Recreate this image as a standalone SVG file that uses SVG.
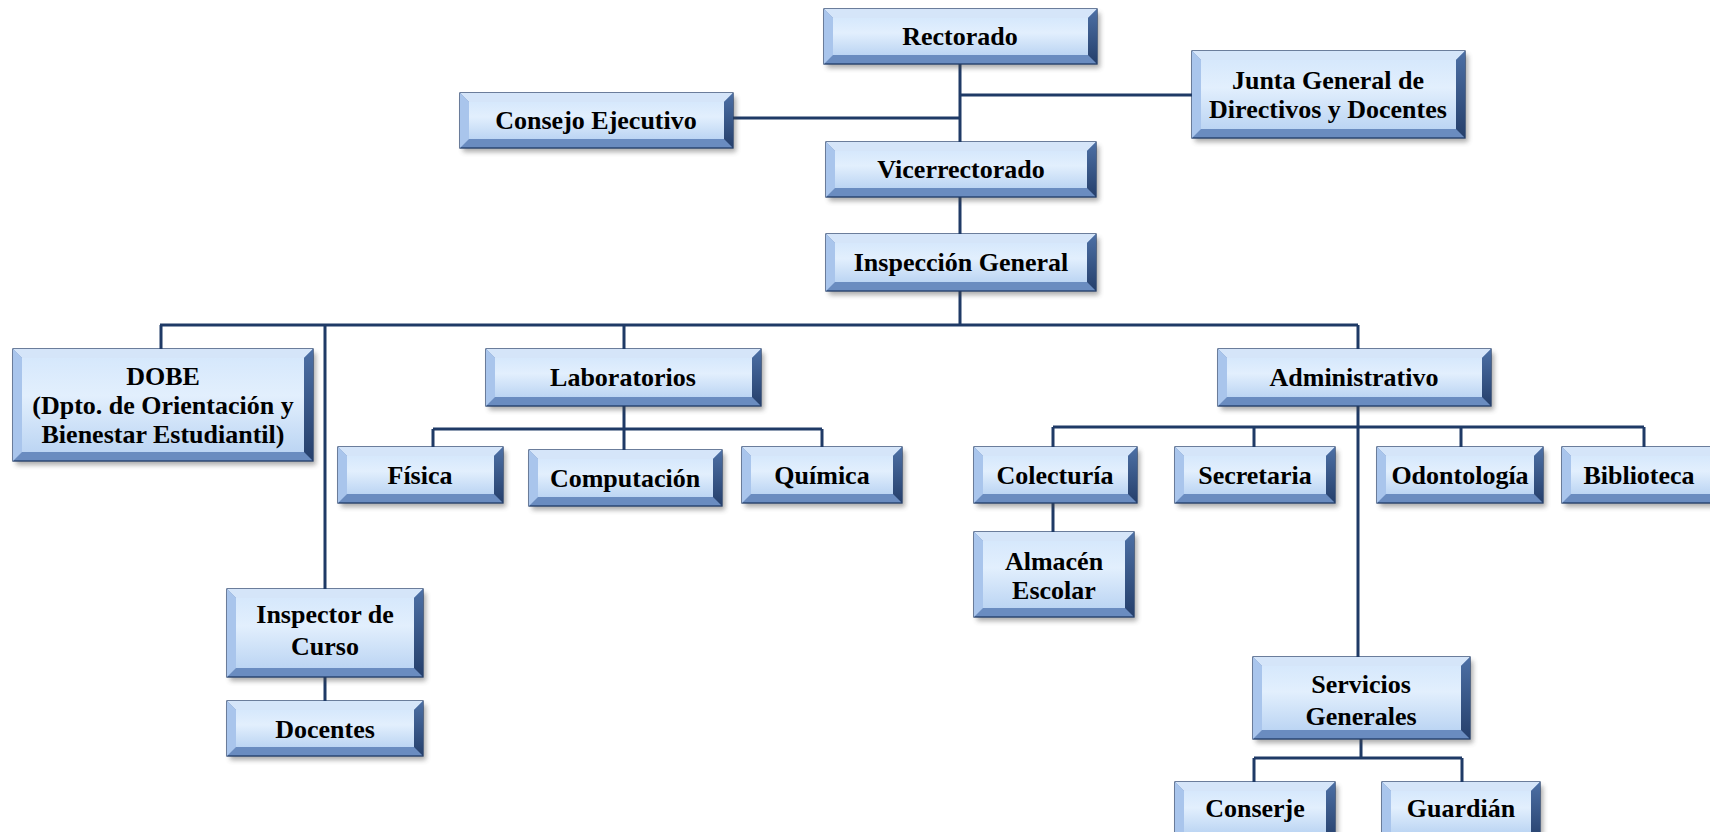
<svg xmlns="http://www.w3.org/2000/svg" width="1710" height="832" viewBox="0 0 1710 832">
<defs>
<linearGradient id="face" x1="0" y1="0" x2="0" y2="1">
<stop offset="0" stop-color="#d6e8fc"/>
<stop offset="0.4" stop-color="#e2effd"/>
<stop offset="1" stop-color="#bcd5f3"/>
</linearGradient>
<linearGradient id="rg" x1="0" y1="0" x2="0" y2="1">
<stop offset="0" stop-color="#4d70a5"/>
<stop offset="1" stop-color="#253f6b"/>
</linearGradient>
<filter id="blur" x="-10%" y="-20%" width="120%" height="140%"><feGaussianBlur stdDeviation="2.5"/></filter>
</defs>
<style>
.sh{fill:#444;opacity:.45;filter:url(#blur)}
.base{fill:#6a8cc0;stroke:#1f3b68;stroke-width:1.3}
.tp{fill:#d5e5f9}
.lf{fill:#a9c5ec}
.rt{fill:url(#rg)}
.fc{fill:url(#face)}
text{font-family:"Liberation Serif","Times New Roman",serif;font-weight:bold;font-size:26px;text-anchor:middle;fill:#000}
.ln{stroke:#1f3a66;stroke-width:3;fill:none}
</style>
<rect width="1710" height="832" fill="#fff"/>
<g id="connectors">
<path class="ln" d="M960,64V142M960,95H1192M733,118H960M960,197V234M960,291V325M160,325H1358M161,325V349M325,325V589M624,325V349M1358,325V657M624,406V429M433,429H822M433,429V447M624,429V450M822,429V447M1053,427H1644M1053,427V447M1254,427V447M1461,427V447M1644,427V447M1053,503V532M325,677V701M1361,739V758M1254,758H1462M1254,758V782M1462,758V782"/>
</g>
<g id="rectorado">
<rect class="sh" x="827" y="13" width="273" height="55"/>
<rect class="base" x="824" y="9" width="273" height="55"/>
<polygon class="tp" points="824,9 1097,9 1088,18 833,18"/>
<polygon class="lf" points="824,9 833,18 833,55 824,64"/>
<polygon class="rt" points="1097,9 1097,64 1088,55 1088,18"/>
<rect class="fc" x="833" y="18" width="255" height="37"/>
<text x="960" y="45">Rectorado</text>
</g>
<g id="consejo">
<rect class="sh" x="463" y="97" width="273" height="55"/>
<rect class="base" x="460" y="93" width="273" height="55"/>
<polygon class="tp" points="460,93 733,93 724,102 469,102"/>
<polygon class="lf" points="460,93 469,102 469,139 460,148"/>
<polygon class="rt" points="733,93 733,148 724,139 724,102"/>
<rect class="fc" x="469" y="102" width="255" height="37"/>
<text x="596" y="129">Consejo Ejecutivo</text>
</g>
<g id="junta">
<rect class="sh" x="1195" y="55" width="273" height="87"/>
<rect class="base" x="1192" y="51" width="273" height="87"/>
<polygon class="tp" points="1192,51 1465,51 1456,60 1201,60"/>
<polygon class="lf" points="1192,51 1201,60 1201,129 1192,138"/>
<polygon class="rt" points="1465,51 1465,138 1456,129 1456,60"/>
<rect class="fc" x="1201" y="60" width="255" height="69"/>
<text x="1328" y="89">Junta General de</text>
<text x="1328" y="118">Directivos y Docentes</text>
</g>
<g id="vicerrectorado">
<rect class="sh" x="829" y="146" width="270" height="55"/>
<rect class="base" x="826" y="142" width="270" height="55"/>
<polygon class="tp" points="826,142 1096,142 1087,151 835,151"/>
<polygon class="lf" points="826,142 835,151 835,188 826,197"/>
<polygon class="rt" points="1096,142 1096,197 1087,188 1087,151"/>
<rect class="fc" x="835" y="151" width="252" height="37"/>
<text x="961" y="178">Vicerrectorado</text>
</g>
<g id="inspeccion">
<rect class="sh" x="829" y="238" width="270" height="57"/>
<rect class="base" x="826" y="234" width="270" height="57"/>
<polygon class="tp" points="826,234 1096,234 1087,243 835,243"/>
<polygon class="lf" points="826,234 835,243 835,282 826,291"/>
<polygon class="rt" points="1096,234 1096,291 1087,282 1087,243"/>
<rect class="fc" x="835" y="243" width="252" height="39"/>
<text x="961" y="271">Inspección General</text>
</g>
<g id="dobe">
<rect class="sh" x="16" y="353" width="300" height="112"/>
<rect class="base" x="13" y="349" width="300" height="112"/>
<polygon class="tp" points="13,349 313,349 304,358 22,358"/>
<polygon class="lf" points="13,349 22,358 22,452 13,461"/>
<polygon class="rt" points="313,349 313,461 304,452 304,358"/>
<rect class="fc" x="22" y="358" width="282" height="94"/>
<text x="163" y="385">DOBE</text>
<text x="163" y="414">(Dpto. de Orientación y</text>
<text x="163" y="443">Bienestar Estudiantil)</text>
</g>
<g id="laboratorios">
<rect class="sh" x="489" y="353" width="275" height="57"/>
<rect class="base" x="486" y="349" width="275" height="57"/>
<polygon class="tp" points="486,349 761,349 752,358 495,358"/>
<polygon class="lf" points="486,349 495,358 495,397 486,406"/>
<polygon class="rt" points="761,349 761,406 752,397 752,358"/>
<rect class="fc" x="495" y="358" width="257" height="39"/>
<text x="623" y="386">Laboratorios</text>
</g>
<g id="administrativo">
<rect class="sh" x="1221" y="353" width="273" height="57"/>
<rect class="base" x="1218" y="349" width="273" height="57"/>
<polygon class="tp" points="1218,349 1491,349 1482,358 1227,358"/>
<polygon class="lf" points="1218,349 1227,358 1227,397 1218,406"/>
<polygon class="rt" points="1491,349 1491,406 1482,397 1482,358"/>
<rect class="fc" x="1227" y="358" width="255" height="39"/>
<text x="1354" y="386">Administrativo</text>
</g>
<g id="fisica">
<rect class="sh" x="341" y="451" width="165" height="56"/>
<rect class="base" x="338" y="447" width="165" height="56"/>
<polygon class="tp" points="338,447 503,447 494,456 347,456"/>
<polygon class="lf" points="338,447 347,456 347,494 338,503"/>
<polygon class="rt" points="503,447 503,503 494,494 494,456"/>
<rect class="fc" x="347" y="456" width="147" height="38"/>
<text x="420" y="484">Física</text>
</g>
<g id="computacion">
<rect class="sh" x="532" y="454" width="193" height="56"/>
<rect class="base" x="529" y="450" width="193" height="56"/>
<polygon class="tp" points="529,450 722,450 713,459 538,459"/>
<polygon class="lf" points="529,450 538,459 538,497 529,506"/>
<polygon class="rt" points="722,450 722,506 713,497 713,459"/>
<rect class="fc" x="538" y="459" width="175" height="38"/>
<text x="625" y="487">Computación</text>
</g>
<g id="quimica">
<rect class="sh" x="745" y="451" width="160" height="56"/>
<rect class="base" x="742" y="447" width="160" height="56"/>
<polygon class="tp" points="742,447 902,447 893,456 751,456"/>
<polygon class="lf" points="742,447 751,456 751,494 742,503"/>
<polygon class="rt" points="902,447 902,503 893,494 893,456"/>
<rect class="fc" x="751" y="456" width="142" height="38"/>
<text x="822" y="484">Química</text>
</g>
<g id="colecturia">
<rect class="sh" x="977" y="451" width="163" height="56"/>
<rect class="base" x="974" y="447" width="163" height="56"/>
<polygon class="tp" points="974,447 1137,447 1128,456 983,456"/>
<polygon class="lf" points="974,447 983,456 983,494 974,503"/>
<polygon class="rt" points="1137,447 1137,503 1128,494 1128,456"/>
<rect class="fc" x="983" y="456" width="145" height="38"/>
<text x="1055" y="484">Colecturía</text>
</g>
<g id="secretaria">
<rect class="sh" x="1178" y="451" width="160" height="56"/>
<rect class="base" x="1175" y="447" width="160" height="56"/>
<polygon class="tp" points="1175,447 1335,447 1326,456 1184,456"/>
<polygon class="lf" points="1175,447 1184,456 1184,494 1175,503"/>
<polygon class="rt" points="1335,447 1335,503 1326,494 1326,456"/>
<rect class="fc" x="1184" y="456" width="142" height="38"/>
<text x="1255" y="484">Secretaria</text>
</g>
<g id="odontologia">
<rect class="sh" x="1380" y="451" width="166" height="56"/>
<rect class="base" x="1377" y="447" width="166" height="56"/>
<polygon class="tp" points="1377,447 1543,447 1534,456 1386,456"/>
<polygon class="lf" points="1377,447 1386,456 1386,494 1377,503"/>
<polygon class="rt" points="1543,447 1543,503 1534,494 1534,456"/>
<rect class="fc" x="1386" y="456" width="148" height="38"/>
<text x="1460" y="484">Odontología</text>
</g>
<g id="biblioteca">
<rect class="sh" x="1565" y="451" width="166" height="56"/>
<rect class="base" x="1562" y="447" width="166" height="56"/>
<polygon class="tp" points="1562,447 1728,447 1719,456 1571,456"/>
<polygon class="lf" points="1562,447 1571,456 1571,494 1562,503"/>
<polygon class="rt" points="1728,447 1728,503 1719,494 1719,456"/>
<rect class="fc" x="1571" y="456" width="148" height="38"/>
<text x="1639" y="484">Biblioteca</text>
</g>
<g id="almacen">
<rect class="sh" x="977" y="536" width="160" height="85"/>
<rect class="base" x="974" y="532" width="160" height="85"/>
<polygon class="tp" points="974,532 1134,532 1125,541 983,541"/>
<polygon class="lf" points="974,532 983,541 983,608 974,617"/>
<polygon class="rt" points="1134,532 1134,617 1125,608 1125,541"/>
<rect class="fc" x="983" y="541" width="142" height="67"/>
<text x="1054" y="570">Almacén</text>
<text x="1054" y="599">Escolar</text>
</g>
<g id="inspector">
<rect class="sh" x="230" y="593" width="196" height="88"/>
<rect class="base" x="227" y="589" width="196" height="88"/>
<polygon class="tp" points="227,589 423,589 414,598 236,598"/>
<polygon class="lf" points="227,589 236,598 236,668 227,677"/>
<polygon class="rt" points="423,589 423,677 414,668 414,598"/>
<rect class="fc" x="236" y="598" width="178" height="70"/>
<text x="325" y="623">Inspector de</text>
<text x="325" y="655">Curso</text>
</g>
<g id="docentes">
<rect class="sh" x="230" y="705" width="196" height="55"/>
<rect class="base" x="227" y="701" width="196" height="55"/>
<polygon class="tp" points="227,701 423,701 414,710 236,710"/>
<polygon class="lf" points="227,701 236,710 236,747 227,756"/>
<polygon class="rt" points="423,701 423,756 414,747 414,710"/>
<rect class="fc" x="236" y="710" width="178" height="37"/>
<text x="325" y="738">Docentes</text>
</g>
<g id="servicios">
<rect class="sh" x="1256" y="661" width="217" height="82"/>
<rect class="base" x="1253" y="657" width="217" height="82"/>
<polygon class="tp" points="1253,657 1470,657 1461,666 1262,666"/>
<polygon class="lf" points="1253,657 1262,666 1262,730 1253,739"/>
<polygon class="rt" points="1470,657 1470,739 1461,730 1461,666"/>
<rect class="fc" x="1262" y="666" width="199" height="64"/>
<text x="1361" y="693">Servicios</text>
<text x="1361" y="725">Generales</text>
</g>
<g id="conserje">
<rect class="sh" x="1178" y="786" width="160" height="60"/>
<rect class="base" x="1175" y="782" width="160" height="60"/>
<polygon class="tp" points="1175,782 1335,782 1326,791 1184,791"/>
<polygon class="lf" points="1175,782 1184,791 1184,833 1175,842"/>
<polygon class="rt" points="1335,782 1335,842 1326,833 1326,791"/>
<rect class="fc" x="1184" y="791" width="142" height="42"/>
<text x="1255" y="817">Conserje</text>
</g>
<g id="guardian">
<rect class="sh" x="1385" y="786" width="158" height="60"/>
<rect class="base" x="1382" y="782" width="158" height="60"/>
<polygon class="tp" points="1382,782 1540,782 1531,791 1391,791"/>
<polygon class="lf" points="1382,782 1391,791 1391,833 1382,842"/>
<polygon class="rt" points="1540,782 1540,842 1531,833 1531,791"/>
<rect class="fc" x="1391" y="791" width="140" height="42"/>
<text x="1461" y="817">Guardián</text>
</g>
</svg>
